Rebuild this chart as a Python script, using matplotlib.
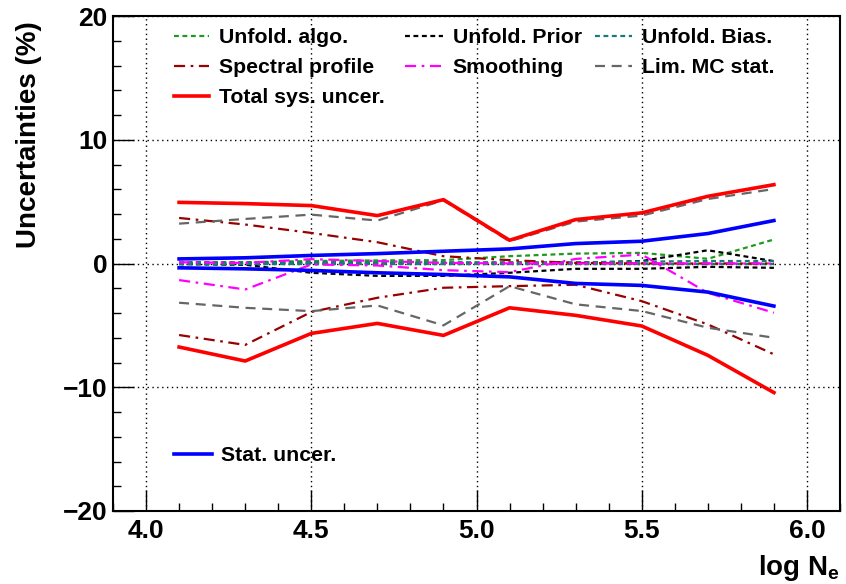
import matplotlib
matplotlib.use("Agg")
import matplotlib.pyplot as plt
from matplotlib.ticker import MultipleLocator

plt.rcParams['font.family'] = ['Liberation Sans', 'DejaVu Sans']
plt.rcParams['font.weight'] = 'bold'
plt.rcParams['mathtext.fontset'] = 'custom'
plt.rcParams['mathtext.rm'] = 'Liberation Sans:bold'
plt.rcParams['mathtext.it'] = 'Liberation Sans:bold'
plt.rcParams['mathtext.bf'] = 'Liberation Sans:bold'

# bin centres in log Ne
log_ne = [4.1, 4.3, 4.5, 4.7, 4.9, 5.1, 5.3, 5.5, 5.7, 5.9]

# uncertainties (%) - upper and lower bands
algo_up = [0.1, 0.1, 0.2, 0.25, 0.27, 0.59, 0.8, 0.86, 0.38, 1.94]
algo_lo = [-0.05, -0.05, -0.05, -0.05, -0.05, -0.05, -0.05, -0.05, -0.05, -0.05]
prior_up = [0.05, 0.05, 0.05, 0.05, 0.05, 0.05, 0.05, 0.2, 1.07, 0.19]
prior_lo = [-0.05, -0.1, -0.75, -1.0, -1.0, -0.75, -0.43, -0.43, -0.27, -0.35]
bias_up = [0.05, 0.05, 0.1, 0.1, 0.1, 0.1, 0.1, 0.15, 0.2, 0.2]
bias_lo = [-0.05, -0.05, -0.05, -0.05, -0.05, -0.05, -0.05, -0.05, -0.05, -0.05]
spec_up = [3.68, 3.15, 2.47, 1.72, 0.59, 0.27, 0.05, 0.0, 0.0, 0.0]
spec_lo = [-5.78, -6.58, -3.92, -2.77, -1.96, -1.83, -1.72, -3.04, -4.92, -7.34]
smooth_up = [0.1, 0.05, 0.35, 0.2, 0.05, 0.0, 0.0, 0.0, 0.0, 0.0]
smooth_lo = [-1.34, -2.1, -0.08, -0.16, -0.54, -0.7, 0.37, 0.72, -2.37, -3.98]
mcstat_up = [3.22, 3.6, 3.95, 3.47, 5.1, 1.8, 3.39, 3.87, 5.21, 6.02]
mcstat_lo = [-3.17, -3.58, -3.85, -3.39, -5.0, -1.83, -3.3, -3.84, -5.19, -6.0]
total_up = [4.94, 4.84, 4.68, 3.87, 5.16, 1.88, 3.55, 4.09, 5.43, 6.37]
total_lo = [-6.75, -7.88, -5.65, -4.84, -5.81, -3.58, -4.19, -5.05, -7.42, -10.43]
stat_up = [0.37, 0.46, 0.65, 0.8, 0.99, 1.18, 1.61, 1.8, 2.42, 3.47]
stat_lo = [-0.35, -0.43, -0.56, -0.75, -0.89, -1.08, -1.61, -1.77, -2.31, -3.44]

W, H = 846, 584
fig = plt.figure(figsize=(W / 100, H / 100), dpi=100)
ax = fig.add_axes([113 / W, (H - 511) / H, 727 / W, 495 / H])

short = (0, (2.2, 1.6))
dashdot = (0, (5, 2.5, 1.2, 2.5))
longdash = (0, (4.5, 3))

series = [
    (algo_up, algo_lo, '#1f9a1f', short, 1.6, 'Unfold. algo.'),
    (prior_up, prior_lo, 'black', short, 1.6, 'Unfold. Prior'),
    (bias_up, bias_lo, '#1a7a7a', short, 1.6, 'Unfold. Bias.'),
    (spec_up, spec_lo, '#990000', dashdot, 1.6, 'Spectral profile'),
    (smooth_up, smooth_lo, '#ff00ff', dashdot, 1.6, 'Smoothing'),
    (mcstat_up, mcstat_lo, '#666666', longdash, 1.6, 'Lim. MC stat.'),
    (total_up, total_lo, '#ff0000', '-', 2.6, 'Total sys. uncer.'),
]
handles = {}
for up, lo, col, ls, lw, lab in series:
    h, = ax.plot(log_ne, up, color=col, ls=ls, lw=lw)
    ax.plot(log_ne, lo, color=col, ls=ls, lw=lw)
    handles[lab] = h
hs, = ax.plot(log_ne, stat_up, color='#0000ff', lw=2.6)
ax.plot(log_ne, stat_lo, color='#0000ff', lw=2.6)

ax.set_xlim(3.9, 6.1)
ax.set_ylim(-20, 20)
ax.xaxis.set_major_locator(MultipleLocator(0.5))
ax.xaxis.set_minor_locator(MultipleLocator(0.1))
ax.yaxis.set_major_locator(MultipleLocator(10))
ax.yaxis.set_minor_locator(MultipleLocator(2))
ax.xaxis.set_major_formatter(matplotlib.ticker.FormatStrFormatter('%.1f'))
ax.tick_params(which='both', direction='in', top=False, right=False,
               labelsize=19, width=1)
ax.tick_params(which='major', length=15)
ax.tick_params(which='minor', length=6)
ax.tick_params(axis='x', pad=6)
ax.tick_params(axis='y', pad=4)
ax.grid(True, which='major', color='black', ls=(0, (1, 2.5)), lw=1)
for s in ax.spines.values():
    s.set_linewidth(1.5)

fig.text(29 / W, 1 - 135 / H, 'Uncertainties (%)', rotation=90,
         ha='center', va='center', fontsize=20, fontweight='bold')
fig.text(840 / W, 1 - 568 / H, r'log N$_{\rm e}$', ha='right', va='center',
         fontsize=20, fontweight='bold')

cols = [
    (['Unfold. algo.', 'Spectral profile', 'Total sys. uncer.'], 174, 1.65),
    (['Unfold. Prior', 'Smoothing'], 405, 1.8),
    (['Unfold. Bias.', 'Lim. MC stat.'], 595, 1.75),
]
for labs, x0, hl in cols:
    leg = ax.legend([handles[l] for l in labs], labs, loc='upper left',
                    bbox_to_anchor=(x0 / W, 1 - 28 / H),
                    bbox_transform=fig.transFigure, frameon=False,
                    borderpad=0, borderaxespad=0,
                    handlelength=hl, handletextpad=0.45, labelspacing=0.52,
                    prop={'weight': 'bold', 'size': 15.3})
    ax.add_artist(leg)

leg = ax.legend([hs], ['Stat. uncer.'], loc='upper left',
                bbox_to_anchor=(174 / W, 1 - 446 / H),
                bbox_transform=fig.transFigure, frameon=False,
                borderpad=0, borderaxespad=0, handlelength=1.8,
                handletextpad=0.4, prop={'weight': 'bold', 'size': 15.3})

fig.savefig('out.png', dpi=100)
